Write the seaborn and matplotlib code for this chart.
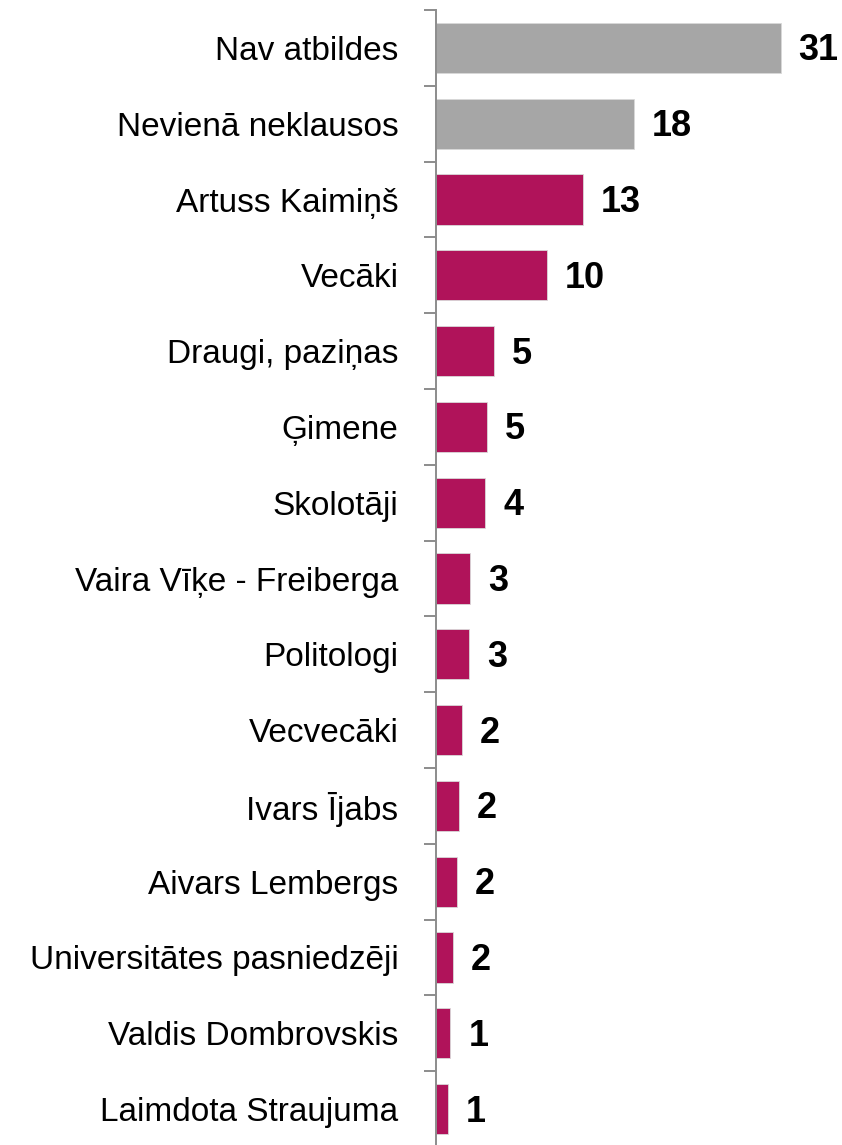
import matplotlib
matplotlib.use("Agg")
import matplotlib.pyplot as plt
from matplotlib import font_manager
from matplotlib.ticker import FixedLocator
import seaborn as sns
import pandas as pd
import numpy as np

categories = ["Nav atbildes", "Nevienā neklausos", "Artuss Kaimiņš", "Vecāki",
              "Draugi, paziņas", "Ģimene", "Skolotāji", "Vaira Vīķe - Freiberga",
              "Politologi", "Vecvecāki", "Ivars Ījabs", "Aivars Lembergs",
              "Universitātes pasniedzēji", "Valdis Dombrovskis", "Laimdota Straujuma"]
values = [31.0, 17.8, 13.2, 10.0, 5.2, 4.6, 4.45, 3.1, 3.0, 2.3, 2.1, 1.9, 1.5, 1.3, 1.05]
value_labels = ["31", "18", "13", "10", "5", "5", "4", "3", "3", "2", "2", "2", "2", "1", "1"]
groups = ["other", "other"] + ["person"] * 13

palette = {"other": "#A6A6A6", "person": "#B0135A"}

sns.set_theme(style="white")
names = {f.name for f in font_manager.fontManager.ttflist}
family = "Liberation Sans Narrow" if "Liberation Sans Narrow" in names else "Liberation Sans"
plt.rcParams["font.family"] = [family, "DejaVu Sans"]

df = pd.DataFrame({"cat": categories, "val": values, "grp": groups})

W, H = 842, 1145
fig = plt.figure(figsize=(W / 100, H / 100), dpi=100)
ax = fig.add_axes([436 / W, -2 / H, 406 / W, 1137 / H])

sns.barplot(data=df, y="cat", x="val", hue="grp", palette=palette, orient="h",
            width=0.66, dodge=False, legend=False, ax=ax, saturation=1,
            edgecolor="#d9d9d9", linewidth=0.6)

ax.set_xlim(0, 36.5)
ax.set_ylim(len(categories) - 0.5, -0.5)
ax.set_xlabel("")
ax.set_ylabel("")
ax.set_xticks([])

for s in ["top", "right", "bottom"]:
    ax.spines[s].set_visible(False)
ax.spines["left"].set_color("#8c8c8c")
ax.spines["left"].set_linewidth(1.4)

ax.set_yticks(range(len(categories)))
ax.set_yticklabels(categories, fontsize=24, color="#000000")
ax.tick_params(axis="y", which="major", length=0, pad=27)
ax.yaxis.set_minor_locator(FixedLocator(np.arange(-0.5, len(categories), 1.0)))
ax.tick_params(axis="y", which="minor", length=8.6, width=1.4, color="#8c8c8c", left=True)

for i, (v, lab) in enumerate(zip(values, value_labels)):
    ax.text(v + 1.6, i + 0.04, lab, va="center", ha="left", fontsize=26,
            fontweight="bold", color="#000000")

fig.savefig("out.png", dpi=100, facecolor="white")
